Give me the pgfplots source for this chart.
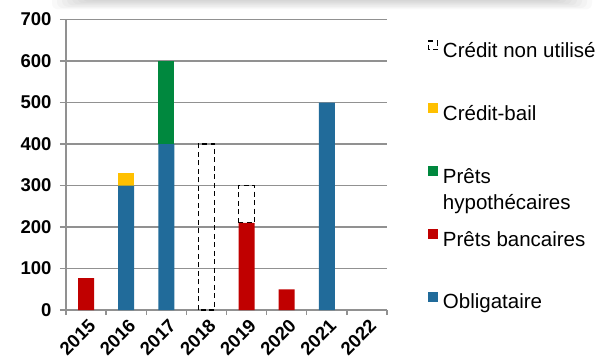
\documentclass[border=0pt]{standalone}
\usepackage{pgfplots}
\pgfplotsset{compat=1.18}
\usepackage{fontspec}
\setmainfont{Liberation Sans}

\definecolor{oblig}{RGB}{33,107,154}
\definecolor{bancaire}{RGB}{192,0,0}
\definecolor{hypo}{RGB}{0,136,62}
\definecolor{bail}{RGB}{255,192,0}
\definecolor{axisgray}{RGB}{145,145,145}

\pgfplotsset{
  sqlegend/.style={legend image code/.code={\fill[##1] (0bp,2.3bp) rectangle (10bp,12.3bp);}},
  dashlegend/.style={legend image code/.code={\draw[##1] (0.7bp,2.9bp) rectangle (9.3bp,11.7bp);}},
}

\begin{document}
\begin{tikzpicture}
\useasboundingbox (0,0) rectangle (603bp,360bp);
% soft drop shadow along the top edge
\foreach \i in {0,...,7}{
  \fill[black,opacity=0.022,rounded corners=6bp]
    ({52bp+5bp*\i},372bp) rectangle ({592bp-5bp*\i},{361bp-1.3bp*(8-\i)});
}
\begin{axis}[
  scale only axis, width=321bp, height=290.5bp,
  at={(66bp,50bp)}, anchor=south west,
  xmin=-0.5, xmax=7.5, ymin=0, ymax=700,
  ybar stacked, bar width=16bp,
  axis x line*=bottom, axis y line*=left,
  axis line style={axisgray, line width=1.3bp},
  ytick={0,100,...,700}, ymajorgrids,
  grid style={axisgray, line width=1.3bp},
  xtick={0,...,7},
  xticklabels={2015,2016,2017,2018,2019,2020,2021,2022},
  minor xtick={-0.5,0.5,...,7.5},
  major x tick style={draw=none},
  tick align=outside,
  major tick length=6bp, minor tick length=5bp,
  tick style={axisgray, line width=1.3bp},
  /pgf/number format/assume math mode=true,
  yticklabel style={font=\fontsize{18.5bp}{18.5bp}\selectfont\bfseries, xshift=-5bp},
  xticklabel style={font=\fontsize{18.5bp}{18.5bp}\selectfont\bfseries, rotate=45,
    anchor=east, xshift=3bp, yshift=-9bp},
  legend style={at={(1.1277,0.9284)}, anchor=north west, draw=none, fill=none,
    inner sep=0pt, outer sep=0pt, row sep=40.5bp,
    font=\fontsize{20.5bp}{26bp}\selectfont,
    nodes={inner sep=0pt, text height=15bp, text depth=5bp},
    /tikz/every odd column/.append style={column sep=5bp}},
  legend cell align=left, reverse legend,
  clip=false,
]
\addplot[fill=oblig, draw=none, sqlegend] coordinates
  {(0,0) (1,300) (2,400) (3,0) (4,0) (5,0) (6,500) (7,0)};
\addlegendentry{Obligataire}
\addplot[fill=bancaire, draw=none, sqlegend] coordinates
  {(0,77) (1,0) (2,0) (3,0) (4,210) (5,50) (6,0) (7,0)};
\addlegendentry{Prêts bancaires}
\addplot[fill=hypo, draw=none, sqlegend] coordinates
  {(0,0) (1,0) (2,200) (3,0) (4,0) (5,0) (6,0) (7,0)};
\addlegendentry{\smash{\parbox[t]{200bp}{Prêts\\hypothécaires}}}
\addplot[fill=bail, draw=none, sqlegend] coordinates
  {(0,0) (1,30) (2,0) (3,0) (4,0) (5,0) (6,0) (7,0)};
\addlegendentry{Crédit-bail}
% unused credit: 2018 from 0 to 400, 2019 from 210 to 300
\addplot[sharp plot, stack plots=false, black, line width=1.2bp,
  dash pattern=on 5bp off 3.5bp, unbounded coords=jump, dashlegend] coordinates
  {(2.8,0) (2.8,400) (3.2,400) (3.2,0) (2.8,0) (3.5,nan)
   (3.8,210) (3.8,300) (4.2,300) (4.2,210) (3.8,210)};
\addlegendentry{Crédit non utilisé}
\end{axis}
\end{tikzpicture}
\end{document}
